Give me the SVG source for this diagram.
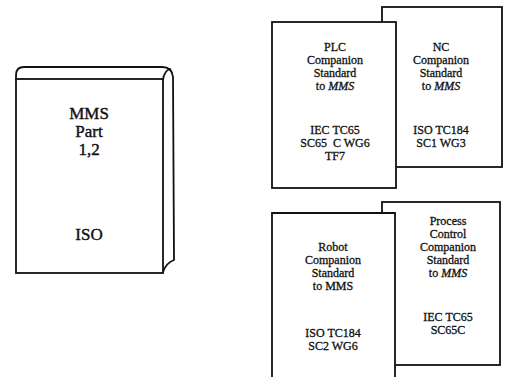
<svg xmlns="http://www.w3.org/2000/svg" width="511" height="377" viewBox="0 0 511 377">
<style>
.ln{fill:none;stroke:#111;stroke-width:1.8;stroke-linejoin:round;stroke-linecap:round}
.bx{fill:#fff;stroke:#111;stroke-width:1.8}
text{font-family:"Liberation Serif","Times New Roman",serif;fill:#111;stroke:#111;stroke-width:0.3;text-anchor:middle}
.s{font-size:12px}
.b{font-size:17px;stroke-width:0.4}
.i{font-style:italic}
</style>
<rect width="511" height="377" fill="#fff"/>
<g id="mms-book">
<path class="ln" d="M16,79 L16,75 Q16,67 24,67 L162,67 Q172,67 173,77 L174,260 Q166,263 163,272"/>
<path class="ln" d="M163,80 Q164,71 170,69"/>
<rect class="bx" x="16" y="79" width="147" height="194"/>
<text class="b" x="89" y="119">MMS</text>
<text class="b" x="89" y="137">Part</text>
<text class="b" x="89" y="155">1,2</text>
<text class="b" x="89" y="240">ISO</text>
</g>
<g id="nc">
<rect class="bx" x="382" y="7" width="120" height="160"/>
<text class="s" x="441" y="51">NC</text>
<text class="s" x="441" y="64">Companion</text>
<text class="s" x="441" y="77">Standard</text>
<text class="s" x="441" y="90">to <tspan class="i">MMS</tspan></text>
<text class="s" x="441" y="134">ISO TC184</text>
<text class="s" x="441" y="147">SC1 WG3</text>
</g>
<g id="plc">
<rect class="bx" x="272" y="22" width="124" height="166"/>
<text class="s" x="335" y="51">PLC</text>
<text class="s" x="335" y="64">Companion</text>
<text class="s" x="335" y="77">Standard</text>
<text class="s" x="335" y="90">to <tspan class="i">MMS</tspan></text>
<text class="s" x="335" y="134">IEC TC65</text>
<text class="s" x="335" y="147" xml:space="preserve">SC65  C WG6</text>
<text class="s" x="335" y="160">TF7</text>
</g>
<g id="process">
<rect class="bx" x="382" y="202" width="118" height="163"/>
<text class="s" x="448" y="225">Process</text>
<text class="s" x="448" y="238">Control</text>
<text class="s" x="448" y="251">Companion</text>
<text class="s" x="448" y="264">Standard</text>
<text class="s" x="448" y="277">to <tspan class="i">MMS</tspan></text>
<text class="s" x="448" y="321">IEC TC65</text>
<text class="s" x="448" y="334">SC65C</text>
</g>
<g id="robot">
<path class="bx" d="M272,380 L272,213 L395,213 L395,380"/>
<text class="s" x="333" y="251">Robot</text>
<text class="s" x="333" y="264">Companion</text>
<text class="s" x="333" y="277">Standard</text>
<text class="s" x="333" y="290">to MMS</text>
<text class="s" x="333" y="337">ISO TC184</text>
<text class="s" x="333" y="350">SC2 WG6</text>
</g>
<g id="connectors"/>
</svg>
